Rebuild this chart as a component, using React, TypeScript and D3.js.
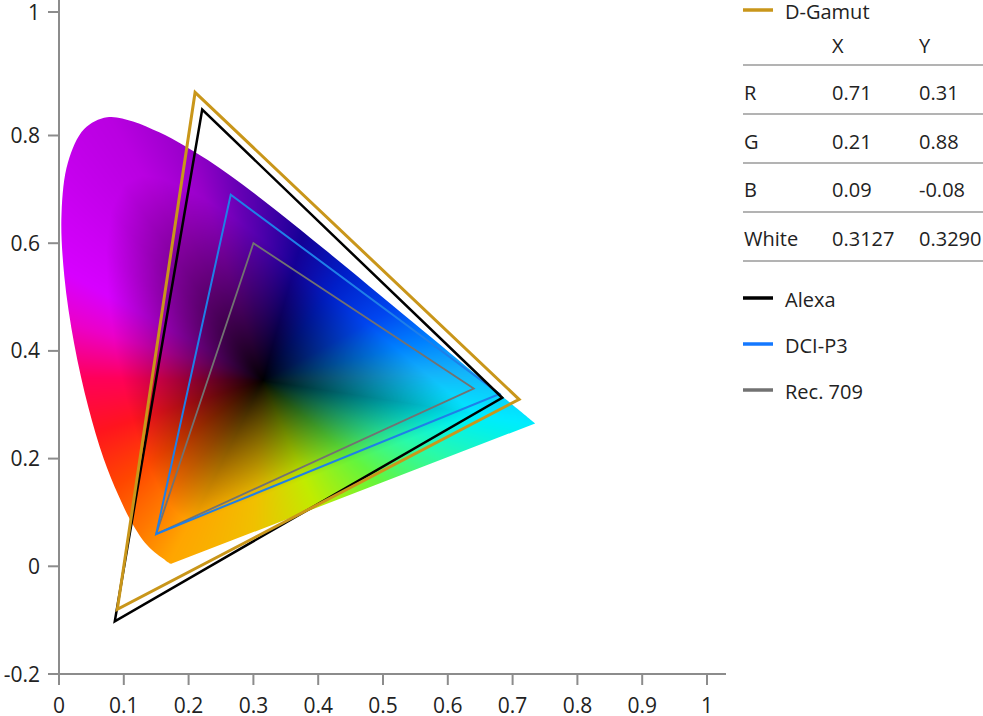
import React, { useMemo } from "react";
import * as d3 from "d3";

// CIE 1931 spectral locus (380-700 nm)
const locusX = [0.1741,0.1740,0.1738,0.1736,0.1733,0.1730,0.1726,0.1721,0.1714,0.1703,0.1689,0.1669,0.1644,0.1611,0.1566,0.1510,0.1440,0.1355,0.1241,0.1096,0.0913,0.0687,0.0454,0.0235,0.0082,0.0039,0.0139,0.0389,0.0743,0.1142,0.1547,0.1929,0.2296,0.2658,0.3016,0.3373,0.3731,0.4087,0.4441,0.4788,0.5125,0.5448,0.5752,0.6029,0.6270,0.6482,0.6658,0.6801,0.6915,0.7006,0.7079,0.7140,0.7190,0.7230,0.7260,0.7283,0.7300,0.7311,0.7320,0.7327,0.7334,0.7344,0.7347];
const locusY = [0.0050,0.0050,0.0049,0.0049,0.0048,0.0048,0.0048,0.0048,0.0051,0.0058,0.0069,0.0086,0.0109,0.0138,0.0177,0.0227,0.0297,0.0399,0.0578,0.0868,0.1327,0.2007,0.2950,0.4127,0.5384,0.6548,0.7502,0.8120,0.8338,0.8262,0.8059,0.7816,0.7543,0.7243,0.6923,0.6589,0.6245,0.5896,0.5547,0.5202,0.4866,0.4544,0.4242,0.3965,0.3725,0.3514,0.3340,0.3197,0.3083,0.2993,0.2920,0.2859,0.2809,0.2770,0.2740,0.2717,0.2700,0.2689,0.2680,0.2673,0.2666,0.2656,0.2653];

// colour stops along the boundary (x, y, colour)
const stopX = [0.735,0.64,0.58,0.52,0.45,0.38,0.28,0.2,0.08,0.01,0.005,0.02,0.04,0.06,0.09,0.13,0.17,0.3,0.4,0.5,0.6,0.7];
const stopY = [0.265,0.36,0.42,0.48,0.56,0.63,0.70,0.78,0.83,0.65,0.55,0.45,0.35,0.25,0.15,0.07,0.01,0.06,0.1,0.15,0.2,0.25];
const stopColor = ["#00ebff","#14b4fa","#0082ff","#0046f0","#001ec8","#140096","#6400b4","#9600c8","#b900e1","#cd00f5","#d700ff","#eb00c8","#ff005a","#ff141e","#ff4600","#ff7800","#ffa500","#f0c000","#c0ec00","#64f53c","#28faaa","#00f0f0"];
const darkCenter = [0.315, 0.345];

// gamuts
const gamutNames = ["D-Gamut", "Alexa", "DCI-P3", "Rec. 709"];
const dGamut = [[0.71, 0.31], [0.21, 0.88], [0.09, -0.08]];
const alexa = [[0.684, 0.313], [0.221, 0.848], [0.0861, -0.102]];
const dciP3 = [[0.68, 0.32], [0.265, 0.69], [0.15, 0.06]];
const rec709 = [[0.64, 0.33], [0.3, 0.6], [0.15, 0.06]];

// table
const tableHeaders = ["X", "Y"];
const tableLabels = ["R", "G", "B", "White"];
const tableX = ["0.71", "0.21", "0.09", "0.3127"];
const tableY = ["0.31", "0.88", "-0.08", "0.3290"];

// axis ticks
const xTicks = [0, 0.1, 0.2, 0.3, 0.4, 0.5, 0.6, 0.7, 0.8, 0.9, 1];
const yTicks = [-0.2, 0, 0.2, 0.4, 0.6, 0.8, 1];

const W = 983, H = 716;
const FONT = "'Open Sans', 'Noto Sans', sans-serif";
const TEXT = "#222";
const AXIS = "#8c8c8c";

const xScale = d3.scaleLinear().domain([0, 1]).range([59, 707]);
const yScale = d3.scaleLinear().domain([-0.2, 0.8]).range([674, 135.5]);
const yAxisScale = d3.scaleLinear().domain([-0.2, 0.8, 1]).range([674, 135.5, 12]);

const gamutStyles = [
  { color: "#c9961a", width: 3 },
  { color: "#000000", width: 2.5 },
  { color: "#1f7fe8", width: 2 },
  { color: "#727272", width: 1.8 },
];
const gamuts = [dGamut, alexa, dciP3, rec709];

function buildImage(x0: number, y0: number, w: number, h: number): string {
  const poly: [number, number][] = locusX.map((x, i) => [x, locusY[i]]);
  const [cx, cy] = darkCenter;
  const bins = 1440;
  const radius = new Float64Array(bins + 1);
  for (let b = 0; b <= bins; b++) {
    const a = (b / bins) * Math.PI * 2;
    const ux = Math.cos(a), uy = Math.sin(a);
    let best = Infinity;
    for (let i = 0; i < poly.length; i++) {
      const p = poly[i], q = poly[(i + 1) % poly.length];
      const ex = q[0] - p[0], ey = q[1] - p[1];
      const den = ux * ey - uy * ex;
      if (Math.abs(den) < 1e-12) continue;
      const wx = p[0] - cx, wy = p[1] - cy;
      const t = (wx * ey - wy * ex) / den;
      const s = (wx * uy - wy * ux) / den;
      if (t > 0 && s >= 0 && s <= 1 && t < best) best = t;
    }
    radius[b] = isFinite(best) ? best : 0.3;
  }
  const stops = stopX.map((sx, i) => {
    let a = (Math.atan2(stopY[i] - cy, sx - cx) * 180) / Math.PI;
    if (a < 0) a += 360;
    const c = d3.rgb(stopColor[i]);
    return { a, r: c.r, g: c.g, b: c.b };
  }).sort((p, q) => p.a - q.a);
  const ext = [
    { ...stops[stops.length - 1], a: stops[stops.length - 1].a - 360 },
    ...stops,
    { ...stops[0], a: stops[0].a + 360 },
  ];
  const lut = new Float64Array(361 * 3);
  for (let d = 0; d <= 360; d++) {
    let k = 0;
    while (k < ext.length - 2 && ext[k + 1].a < d) k++;
    const p = ext[k], q = ext[k + 1];
    const f = (d - p.a) / (q.a - p.a);
    lut[d * 3] = p.r + (q.r - p.r) * f;
    lut[d * 3 + 1] = p.g + (q.g - p.g) * f;
    lut[d * 3 + 2] = p.b + (q.b - p.b) * f;
  }
  const canvas = document.createElement("canvas");
  canvas.width = w;
  canvas.height = h;
  const ctx = canvas.getContext("2d")!;
  const img = ctx.createImageData(w, h);
  for (let j = 0; j < h; j++) {
    const y = yScale.invert(y0 + j + 0.5);
    for (let i = 0; i < w; i++) {
      const x = xScale.invert(x0 + i + 0.5);
      const dx = x - cx, dy = y - cy;
      let a = (Math.atan2(dy, dx) * 180) / Math.PI;
      if (a < 0) a += 360;
      const bi = Math.round((a / 360) * bins);
      const t = Math.hypot(dx, dy) / radius[bi];
      const v = Math.pow(Math.min(1, t / 0.78), 0.85);
      const di = Math.floor(a), df = a - di;
      const o = (j * w + i) * 4;
      for (let c = 0; c < 3; c++) {
        const c0 = lut[di * 3 + c], c1 = lut[Math.min(360, di + 1) * 3 + c];
        img.data[o + c] = (c0 + (c1 - c0) * df) * v;
      }
      img.data[o + 3] = 255;
    }
  }
  ctx.putImageData(img, 0, 0);
  return canvas.toDataURL();
}

export default function App() {
  const ix = 55, iy = 105, iw = 490, ih = 470;
  const url = useMemo(() => buildImage(ix, iy, iw, ih), []);
  const locusPts: [number, number][] = locusX.map((x, i) => [xScale(x), yScale(locusY[i])]);
  const locusPath = d3.line().curve(d3.curveCatmullRom.alpha(0.5))(locusPts)! + "Z";

  const tri = (pts: number[][]) =>
    d3.line<number[]>().x((d) => xScale(d[0])).y((d) => yScale(d[1]))(pts)! + "Z";

  const rowSep = [65, 114, 163, 212, 261];
  const rowBase = [100, 148.5, 197, 246];
  const legendY = [298, 344, 390];

  return (
    <svg width={W} height={H} style={{ position: "absolute", left: 0, top: 0 }}>
      <defs>
        <clipPath id="locus">
          <path d={locusPath} />
        </clipPath>
      </defs>
      <image href={url} x={ix} y={iy} width={iw} height={ih} clipPath="url(#locus)" preserveAspectRatio="none" />

      {/* axes */}
      <line x1={xScale(0)} x2={xScale(0)} y1={0} y2={674} stroke={AXIS} strokeWidth={2} />
      <line x1={xScale(0)} x2={726} y1={674} y2={674} stroke={AXIS} strokeWidth={2} />
      {yTicks.map((t) => (
        <g key={"y" + t}>
          <line x1={48} x2={xScale(0)} y1={yAxisScale(t)} y2={yAxisScale(t)} stroke={AXIS} strokeWidth={2} />
          <text x={40} y={yAxisScale(t)} dy="0.36em" textAnchor="end" fontFamily={FONT} fontSize={21} fill={TEXT}>
            {String(t)}
          </text>
        </g>
      ))}
      {xTicks.map((t) => (
        <g key={"x" + t}>
          <line x1={xScale(t)} x2={xScale(t)} y1={674} y2={685} stroke={AXIS} strokeWidth={2} />
          <text x={xScale(t)} y={713} textAnchor="middle" fontFamily={FONT} fontSize={21} fill={TEXT}>
            {String(t)}
          </text>
        </g>
      ))}

      {/* gamut triangles, last drawn on top */}
      {[3, 2, 1, 0].map((k) => (
        <path key={gamutNames[k]} d={tri(gamuts[k])} fill="none" stroke={gamutStyles[k].color}
          strokeWidth={gamutStyles[k].width} strokeLinejoin="miter" strokeMiterlimit={20} />
      ))}

      {/* legend + table */}
      <line x1={743} x2={773} y1={10} y2={10} stroke={gamutStyles[0].color} strokeWidth={3.5} />
      <text x={785} y={19} fontFamily={FONT} fontSize={20} fill={TEXT}>{gamutNames[0]}</text>
      <text x={832} y={53} fontFamily={FONT} fontSize={20} fill={TEXT}>{tableHeaders[0]}</text>
      <text x={919} y={53} fontFamily={FONT} fontSize={20} fill={TEXT}>{tableHeaders[1]}</text>
      {rowSep.map((y) => (
        <line key={"s" + y} x1={743} x2={983} y1={y} y2={y} stroke="#9a9a9a" strokeWidth={1.5} />
      ))}
      {tableLabels.map((l, i) => (
        <g key={l}>
          <text x={744} y={rowBase[i]} fontFamily={FONT} fontSize={20} fill={TEXT}>{l}</text>
          <text x={832} y={rowBase[i]} fontFamily={FONT} fontSize={20} fill={TEXT}>{tableX[i]}</text>
          <text x={919} y={rowBase[i]} fontFamily={FONT} fontSize={20} fill={TEXT}>{tableY[i]}</text>
        </g>
      ))}
      {[1, 2, 3].map((k, i) => (
        <g key={"lg" + k}>
          <line x1={743} x2={773} y1={legendY[i]} y2={legendY[i]} stroke={k === 2 ? "#1478ff" : gamutStyles[k].color} strokeWidth={3.5} />
          <text x={785} y={legendY[i] + 8.5} fontFamily={FONT} fontSize={20} fill={TEXT}>{gamutNames[k]}</text>
        </g>
      ))}
    </svg>
  );
}
